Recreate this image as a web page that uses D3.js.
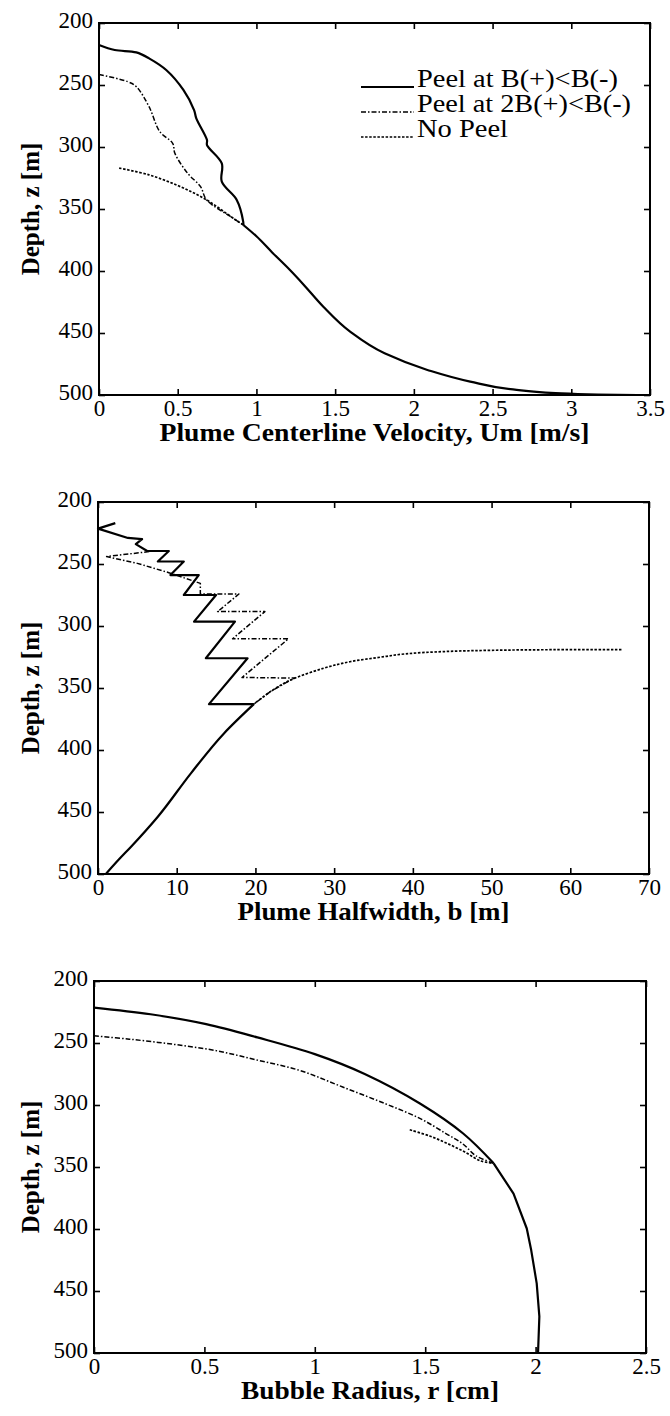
<!DOCTYPE html>
<html>
<head>
<meta charset="utf-8">
<script src="https://cdn.jsdelivr.net/npm/d3@7"></script>
<style>
  body { margin: 0; background: #fff; }
  svg { display: block; }
  .tick text { font-family: "Liberation Serif", "Times New Roman", serif; font-size: 23px; fill: #000; }
  .lbl { font-family: "Liberation Serif", "Times New Roman", serif; font-size: 25px; font-weight: bold; fill: #000; }
  .leg { font-family: "Liberation Serif", "Times New Roman", serif; font-size: 25px; fill: #000; }
</style>
</head>
<body>
<div id="chart"></div>
<script>
// depth axis shared by all three panels
const depthTicks = [200, 250, 300, 350, 400, 450, 500];

// panel 1: plume centerline velocity Um [m/s] vs depth z [m]
const velTicks = [0, 0.5, 1, 1.5, 2, 2.5, 3, 3.5];
const velCommon = [[0.917,362.9],[1.0,372],[1.1,385],[1.213,399.2],[1.3,411],[1.425,428.8],[1.595,448.9],
  [1.814,466.4],[2.086,479.8],[2.358,489.2],[2.63,495.5],[2.9,498.5],[3.17,499.6],[3.42,500]];
const velPeel = [[0,217.7],[0.1,221.8],[0.237,223.7],[0.318,228.5],[0.427,237.9],[0.536,254],[0.604,270.2],
  [0.618,276.9],[0.686,294.4],[0.686,298.4],[0.78,313.2],[0.78,328],[0.875,342.7],[0.916,360.2]];
const velPeel2B = [[0,241.5],[0.182,247.3],[0.237,251.3],[0.318,267.5],[0.386,287.6],[0.468,297],[0.482,305.1],
  [0.563,321.2],[0.645,332],[0.684,342.7],[0.853,357.5]];
const velNoPeel = [[0.128,317],[0.318,322.5],[0.508,331.5],[0.684,342.7],[0.853,357.5]];

// panel 2: plume halfwidth b [m]
const widthTicks = [0, 10, 20, 30, 40, 50, 60, 70];
const widthCommon = [[19.8,363],[16.0,386.6],[11.8,418.8],[7.6,453.8],[4.2,478],[2.7,488],[1.0,500]];
const widthPeel = [[2.2,217],[0,221.5],[3.8,229],[5.6,230],[4.8,234],[6.25,239.5],[9.0,239.5],[7.6,248],
  [10.9,248],[9.2,258.9],[12.8,258.9],[10.9,275],[15.0,275],[12.2,296.5],[17.4,296.5],[13.7,326],
  [19.0,326],[14.1,363]];
const widthPeel2B = [[6.5,240],[1.1,244],[5,249.5],[9,257],[13,265.6],[13.0,274.2],[17.9,274.2],[15.2,288.4],
  [21.2,288.4],[17.1,310.3],[24.2,310.3],[18.3,341.5],[25,342],[24.5,343.5],[22,352.5]];
const widthNoPeel = [[66.5,319],[58,319.1],[50,319.6],[44,320.6],[39,322.5],[35.5,325.5],[32,328.8],
  [28.7,334],[24.5,343.5],[22,352.5]];

// panel 3: bubble radius r [cm]
const radTicks = [0, 0.5, 1, 1.5, 2, 2.5];
const radCommon = [[1.81,347],[1.9,371.4],[1.96,399.6],[1.98,417],[2.005,443.8],[2.017,470.5],[2.011,500]];
const radPeel = [[0,221.4],[0.256,226.8],[0.508,234.8],[0.74,245.5],[1.0,259],[1.226,275],[1.478,299],[1.672,323]];
const radPeel2B = [[0,244.2],[0.16,246.9],[0.353,250.9],[0.547,256],[0.74,263.8],[0.935,272.3],[1.129,285.7],
  [1.32,299],[1.478,311],[1.594,323],[1.67,331.3],[1.73,341]];
const radNoPeel = [[1.43,320],[1.52,325],[1.6,331],[1.68,338],[1.75,345]];

const legendLabels = ['Peel at B(+)<B(-)', 'Peel at 2B(+)<B(-)', 'No Peel'];
const legendWidths = [201, 214, 91];

const styles = {
  peel:   { width: 2.2, dash: null },
  peel2B: { width: 1.5, dash: '5,2,1.5,2' },
  noPeel: { width: 1.7, dash: '2.5,1.6' }
};

const smooth = d3.curveCatmullRom.alpha(0.5);

const panels = [
  { top: 23, left: 99, right: 650, max: 3.5, ticks: velTicks, label: 'Plume Centerline Velocity, Um [m/s]', labelW: 430,
    common: velCommon, peel: velPeel, peel2B: velPeel2B, noPeel: velNoPeel,
    curves: { peel: smooth, peel2B: smooth, noPeel: smooth, common: d3.curveMonotoneY }, legend: true },
  { top: 502, left: 98, right: 649, max: 70, ticks: widthTicks, label: 'Plume Halfwidth, b [m]', labelW: 272,
    common: widthCommon, peel: widthPeel, peel2B: widthPeel2B, noPeel: widthNoPeel,
    curves: { peel: d3.curveLinear, peel2B: d3.curveLinear, noPeel: smooth, common: d3.curveMonotoneY } },
  { top: 981, left: 94, right: 646, max: 2.5, ticks: radTicks, label: 'Bubble Radius, r [cm]', labelW: 258,
    common: radCommon, peel: radPeel, peel2B: radPeel2B, noPeel: radNoPeel,
    curves: { peel: smooth, peel2B: smooth, noPeel: smooth, common: d3.curveLinear } }
];

const plotH = 372;
const svg = d3.select('#chart').append('svg').attr('width', 670).attr('height', 1416);

panels.forEach(p => {
  const x = d3.scaleLinear().domain([0, p.max]).range([p.left, p.right]);
  const y = d3.scaleLinear().domain([200, 500]).range([p.top, p.top + plotH]);
  const bottom = p.top + plotH;
  const g = svg.append('g');

  const drawPath = (data, st, curve) => g.append('path')
    .attr('d', d3.line().x(d => x(d[0])).y(d => y(d[1])).curve(curve)(data))
    .attr('fill', 'none')
    .attr('stroke', '#000')
    .attr('stroke-width', st.width)
    .attr('stroke-dasharray', st.dash)
    .attr('stroke-linejoin', 'round');

  // each series runs to the junction, then the shared tail is drawn once as a solid line
  const junction = p.common[0];
  drawPath(p.noPeel.concat([junction]), styles.noPeel, p.curves.noPeel);
  drawPath(p.peel2B.concat([junction]), styles.peel2B, p.curves.peel2B);
  drawPath(p.peel.concat([junction]), styles.peel, p.curves.peel);
  drawPath(p.common, styles.peel, p.curves.common);

  const fmt = d => String(d);

  const xb = g.append('g').attr('transform', `translate(0,${bottom})`)
    .call(d3.axisBottom(x).tickValues(p.ticks).tickFormat(fmt).tickSizeInner(-6).tickSizeOuter(0).tickPadding(5));
  const xt = g.append('g').attr('transform', `translate(0,${p.top})`)
    .call(d3.axisTop(x).tickValues(p.ticks).tickFormat('').tickSizeInner(-6).tickSizeOuter(0));
  const yl = g.append('g').attr('transform', `translate(${p.left},0)`)
    .call(d3.axisLeft(y).tickValues(depthTicks).tickFormat(fmt).tickSizeInner(-6).tickSizeOuter(0).tickPadding(6));
  const yr = g.append('g').attr('transform', `translate(${p.right},0)`)
    .call(d3.axisRight(y).tickValues(depthTicks).tickFormat('').tickSizeInner(-6).tickSizeOuter(0));

  [xb, xt, yl, yr].forEach(a => {
    a.select('.domain').remove();
    a.selectAll('.tick line').attr('stroke', '#000').attr('stroke-width', 1.6);
  });
  yl.selectAll('.tick text').attr('dy', '0.18em');

  g.append('rect')
    .attr('x', p.left).attr('y', p.top)
    .attr('width', p.right - p.left).attr('height', plotH)
    .attr('fill', 'none').attr('stroke', '#000').attr('stroke-width', 2);

  g.append('text').attr('class', 'lbl')
    .attr('x', (p.left + p.right) / 2 - p.labelW / 2).attr('y', bottom + 46)
    .attr('textLength', p.labelW).attr('lengthAdjust', 'spacingAndGlyphs')
    .text(p.label);

  g.append('text').attr('class', 'lbl')
    .attr('transform', `translate(30,${p.top + plotH / 2}) rotate(-90)`)
    .attr('text-anchor', 'middle').attr('dy', '0.35em')
    .text('Depth, z [m]');

  if (p.legend) {
    const keys = ['peel', 'peel2B', 'noPeel'];
    keys.forEach((k, i) => {
      const base = 87 + i * 25;
      g.append('line')
        .attr('x1', 361).attr('x2', 414).attr('y1', base).attr('y2', base)
        .attr('stroke', '#000')
        .attr('stroke-width', styles[k].width)
        .attr('stroke-dasharray', styles[k].dash);
      g.append('text').attr('class', 'leg')
        .attr('x', 417).attr('y', base)
        .attr('textLength', legendWidths[i]).attr('lengthAdjust', 'spacingAndGlyphs')
        .text(legendLabels[i]);
    });
  }
});
</script>
</body>
</html>
